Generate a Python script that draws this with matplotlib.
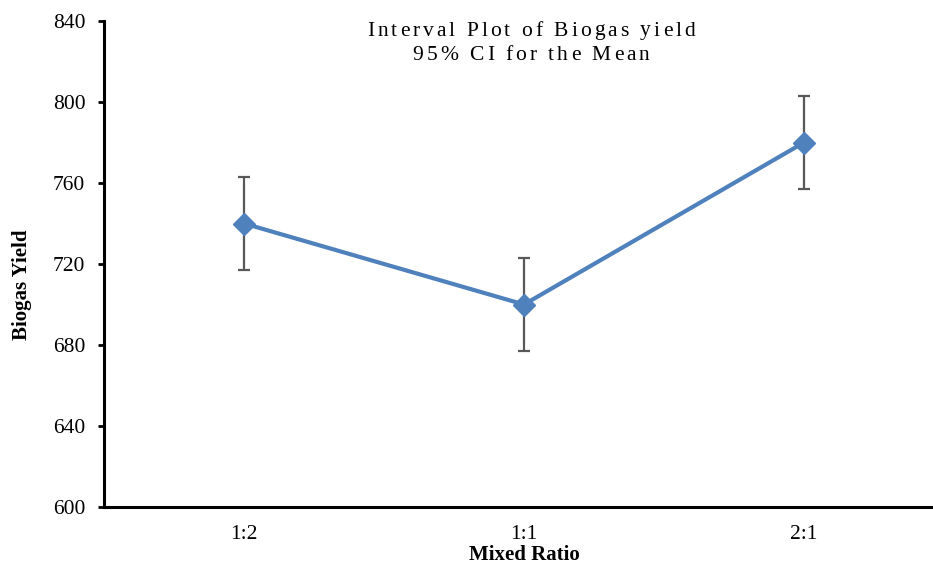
import numpy as np
import matplotlib.pyplot as plt

plt.rcParams['font.family'] = ['Liberation Serif', 'DejaVu Serif']

ratios = ['1:2', '1:1', '2:1']
mean_yield = [740, 700, 780]
ci_half = [23, 23, 23]
yticks = [600, 640, 680, 720, 760, 800, 840]
title_lines = ['Interval Plot of Biogas yield', '95% CI for the Mean']

fig = plt.figure(figsize=(9.33, 5.66), dpi=100)
# the plot area runs a little past the right edge of the figure
ax = fig.add_axes([104 / 933, 59 / 566, 840 / 933, 486 / 566])

x = np.arange(len(ratios))
ax.errorbar(x, mean_yield, yerr=ci_half, fmt='none', ecolor='#595959',
            elinewidth=1.6, capsize=4.5, capthick=1.6, zorder=2)
ax.plot(x, mean_yield, color='#4F81BD', linewidth=3, marker='D',
        markersize=11, zorder=3)

ax.set_xlim(-0.5, 2.5)
ax.set_ylim(600, 840)
ax.set_yticks(yticks)
ax.set_xticks(x)
ax.set_xticklabels(ratios)

for s in ['top', 'right']:
    ax.spines[s].set_visible(False)
for s in ['left', 'bottom']:
    ax.spines[s].set_linewidth(2.2)
ax.tick_params(axis='y', length=4.5, width=2, labelsize=15.5, pad=9)
ax.tick_params(axis='x', length=0, labelsize=15.5, pad=13)

ax.set_xlabel('Mixed Ratio', fontsize=15, fontweight='bold', labelpad=1)
ax.set_ylabel('Biogas Yield', fontsize=15, fontweight='bold')
ax.yaxis.set_label_coords(-72 / 840, (507 - 285) / 486)


def spaced_text(cx, cy, s, gap, **kw):
    # draw a line of text with extra letter spacing, centred on (cx, cy) in pixels
    r = fig.canvas.get_renderer()
    def width(t):
        tt = fig.text(0, 0, t + '|', **kw)
        w = tt.get_window_extent(r).width
        tt.remove()
        return w
    base = width('')
    offs = [width(s[:i]) - base + i * gap for i in range(len(s))]
    total = width(s) - base + (len(s) - 1) * gap
    x0 = cx - total / 2
    for ch, o in zip(s, offs):
        fig.text((x0 + o) / 933, 1 - cy / 566, ch, ha='left', va='center', **kw)


spaced_text(531, 31, title_lines[0], 3.0, fontsize=15.5)
spaced_text(531, 55, title_lines[1], 3.0, fontsize=15.5)

fig.savefig('out.png', dpi=100)
